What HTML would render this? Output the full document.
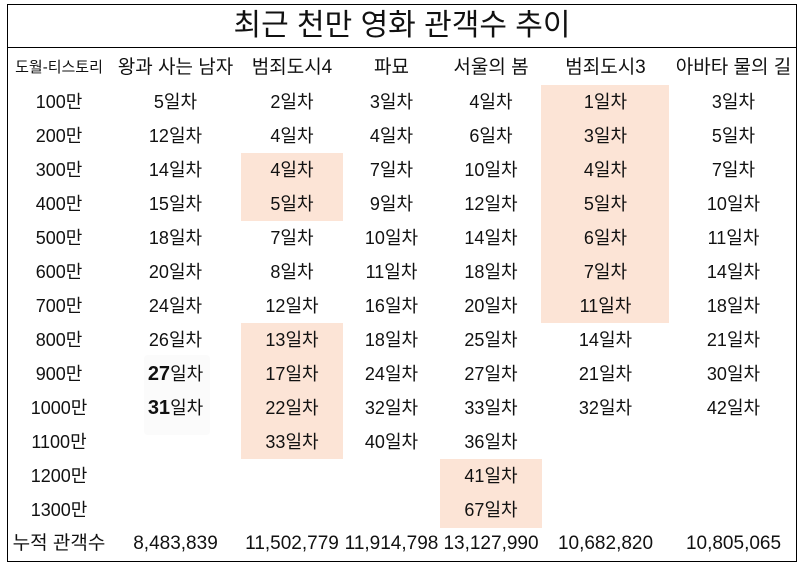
<!DOCTYPE html>
<html><head><meta charset="utf-8"><style>
body{margin:0;width:806px;height:570px;background:#fff;font-family:"Liberation Sans","Noto Sans CJK KR",sans-serif;color:#111;position:relative;overflow:hidden}
.box{position:absolute;left:7px;top:4px;width:790px;height:558px;border:1.5px solid #000;box-sizing:border-box}
.tl{position:absolute;left:7px;top:47px;width:790px;border-top:1.5px solid #000}
.title{position:absolute;left:7px;top:4px;width:790px;height:43px;line-height:43px;text-align:center;font-size:30px}
.hl{position:absolute;background:#fce4d6}
.row{position:absolute;left:8px;display:flex;height:34px;line-height:34px;font-size:18px}
.row div{text-align:center;white-space:nowrap}
.c0{width:102px}.c1{width:131px}.c2{width:102px}.c3{width:97px}.c4{width:102px}.c5{width:127px}.c6{width:129px}
b{font-size:20px}
</style></head><body>
<div class="hl" style="left:541px;top:85px;width:128px;height:238px"></div>
<div class="hl" style="left:241px;top:153px;width:102px;height:68px"></div>
<div class="hl" style="left:241px;top:323px;width:102px;height:136px"></div>
<div class="hl" style="left:440px;top:459px;width:102px;height:69px"></div>
<div class="hl" style="left:144px;top:355px;width:66px;height:80px;background:#fbfbfb;border-radius:4px"></div>
<div class="box"></div><div class="tl"></div>
<div class="title">최근 천만 영화 관객수 추이</div>
<div class="row" style="top:51px;font-size:19px"><div class="c0" style="font-size:15px">도월-티스토리</div><div class="c1">왕과 사는 남자</div><div class="c2">범죄도시4</div><div class="c3">파묘</div><div class="c4">서울의 봄</div><div class="c5">범죄도시3</div><div class="c6">아바타 물의 길</div></div>
<div class="row" style="top:85px"><div class="c0">100만</div><div class="c1">5일차</div><div class="c2">2일차</div><div class="c3">3일차</div><div class="c4">4일차</div><div class="c5">1일차</div><div class="c6">3일차</div></div>
<div class="row" style="top:119px"><div class="c0">200만</div><div class="c1">12일차</div><div class="c2">4일차</div><div class="c3">4일차</div><div class="c4">6일차</div><div class="c5">3일차</div><div class="c6">5일차</div></div>
<div class="row" style="top:153px"><div class="c0">300만</div><div class="c1">14일차</div><div class="c2">4일차</div><div class="c3">7일차</div><div class="c4">10일차</div><div class="c5">4일차</div><div class="c6">7일차</div></div>
<div class="row" style="top:187px"><div class="c0">400만</div><div class="c1">15일차</div><div class="c2">5일차</div><div class="c3">9일차</div><div class="c4">12일차</div><div class="c5">5일차</div><div class="c6">10일차</div></div>
<div class="row" style="top:221px"><div class="c0">500만</div><div class="c1">18일차</div><div class="c2">7일차</div><div class="c3">10일차</div><div class="c4">14일차</div><div class="c5">6일차</div><div class="c6">11일차</div></div>
<div class="row" style="top:255px"><div class="c0">600만</div><div class="c1">20일차</div><div class="c2">8일차</div><div class="c3">11일차</div><div class="c4">18일차</div><div class="c5">7일차</div><div class="c6">14일차</div></div>
<div class="row" style="top:289px"><div class="c0">700만</div><div class="c1">24일차</div><div class="c2">12일차</div><div class="c3">16일차</div><div class="c4">20일차</div><div class="c5">11일차</div><div class="c6">18일차</div></div>
<div class="row" style="top:323px"><div class="c0">800만</div><div class="c1">26일차</div><div class="c2">13일차</div><div class="c3">18일차</div><div class="c4">25일차</div><div class="c5">14일차</div><div class="c6">21일차</div></div>
<div class="row" style="top:357px"><div class="c0">900만</div><div class="c1"><b>27</b>일차</div><div class="c2">17일차</div><div class="c3">24일차</div><div class="c4">27일차</div><div class="c5">21일차</div><div class="c6">30일차</div></div>
<div class="row" style="top:391px"><div class="c0">1000만</div><div class="c1"><b>31</b>일차</div><div class="c2">22일차</div><div class="c3">32일차</div><div class="c4">33일차</div><div class="c5">32일차</div><div class="c6">42일차</div></div>
<div class="row" style="top:425px"><div class="c0">1100만</div><div class="c1"></div><div class="c2">33일차</div><div class="c3">40일차</div><div class="c4">36일차</div><div class="c5"></div><div class="c6"></div></div>
<div class="row" style="top:459px"><div class="c0">1200만</div><div class="c1"></div><div class="c2"></div><div class="c3"></div><div class="c4">41일차</div><div class="c5"></div><div class="c6"></div></div>
<div class="row" style="top:493px"><div class="c0">1300만</div><div class="c1"></div><div class="c2"></div><div class="c3"></div><div class="c4">67일차</div><div class="c5"></div><div class="c6"></div></div>
<div class="row" style="top:527px;font-size:19px"><div class="c0">누적 관객수</div><div class="c1">8,483,839</div><div class="c2">11,502,779</div><div class="c3">11,914,798</div><div class="c4">13,127,990</div><div class="c5">10,682,820</div><div class="c6">10,805,065</div></div>
</body></html>
